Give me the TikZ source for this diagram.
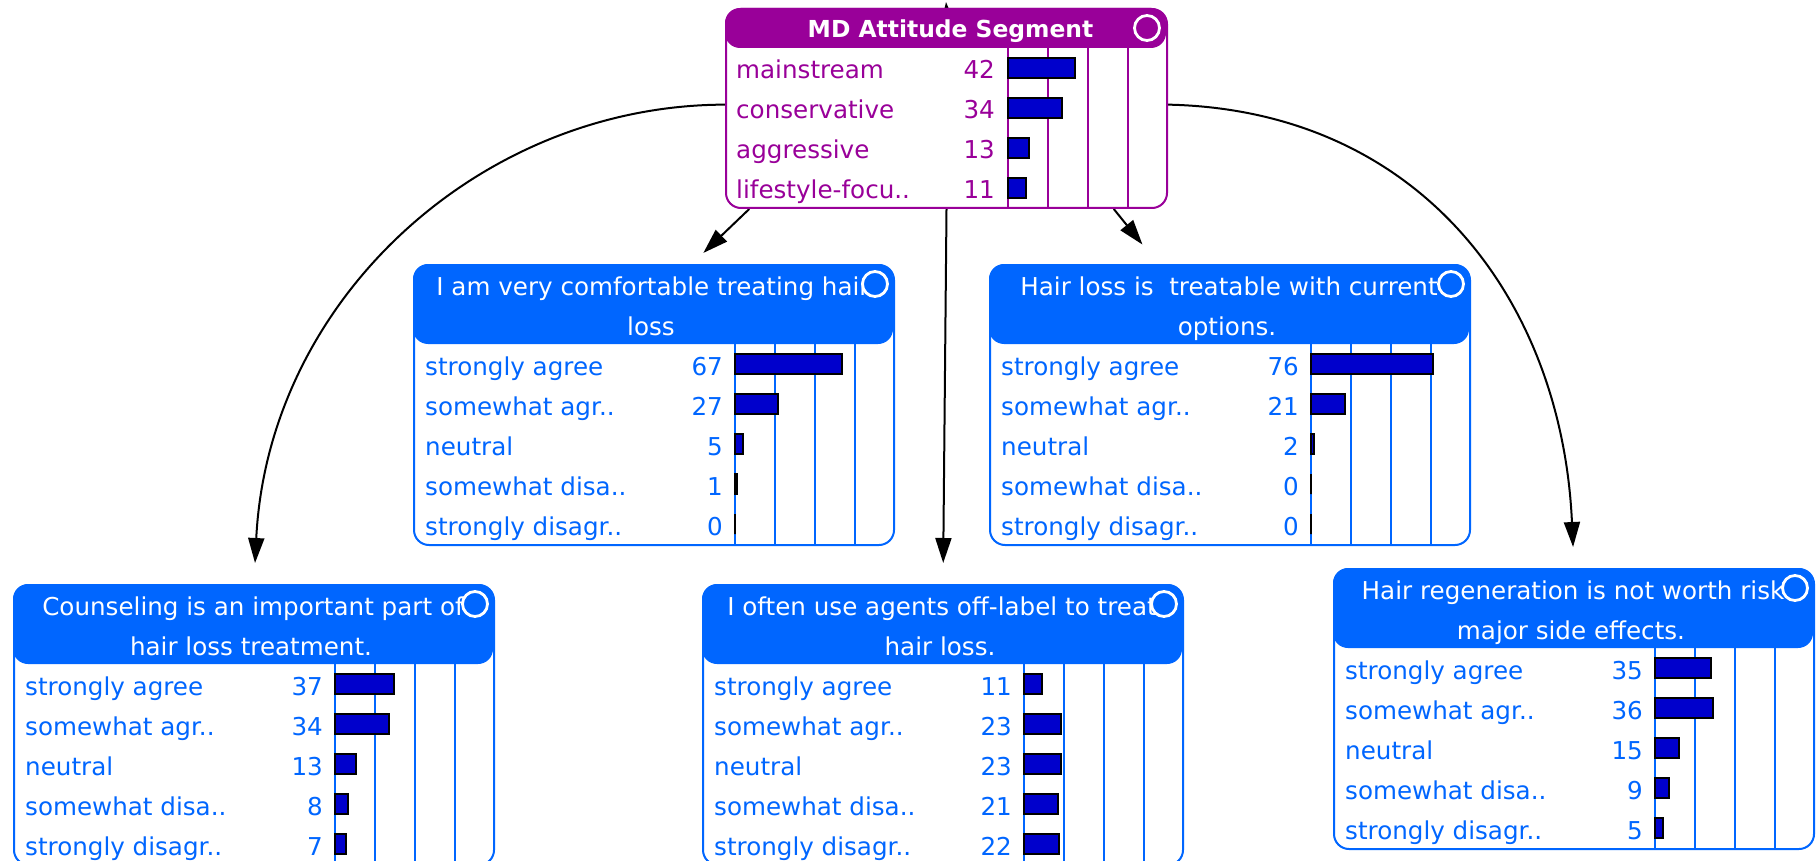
\documentclass[tikz,border=0pt]{standalone}
\usepackage{fontspec}
\setmainfont{DejaVu Sans}
\usetikzlibrary{positioning, arrows.meta, calc, backgrounds}

\definecolor{segpurple}{RGB}{153,0,153}
\definecolor{netblue}{RGB}{0,102,255}
\definecolor{barblue}{RGB}{0,0,204}

\tikzset{
	box/.style={draw=#1, fill=white, line width=2pt, rounded corners=15pt, inner sep=0pt, anchor=north west},
	head/.style={fill=#1, rounded corners=15pt},
	headtext/.style={text=white, anchor=base, inner sep=0pt},
	statetext/.style={text=#1, anchor=base west, inner sep=0pt},
	prob/.style={text=#1, anchor=base east, inner sep=0pt},
	gridline/.style={draw=#1, line width=2pt},
	probbar/.style={fill=barblue, draw=black, line width=2pt},
	knob/.style={draw=white, fill=#1, line width=2.8pt},
	link/.style={line width=2pt, -{Triangle[length=25pt, width=16pt]}},
}

% question node: name, left, top, title line 1, title line 2, states
\newcommand{\qnode}[6]{%
	\node[box=netblue, minimum width=480pt, minimum height=280pt] (#1) at (#2,#3) {};
	\fill[head=netblue] (#1.north west) rectangle ++(480,80);
	\node[headtext] at ($(#1.north)+(-1,31)$) {#4};
	\node[headtext] at ($(#1.north)+(-3,71)$) {#5};
	\foreach \k in {0,...,3}
		\draw[gridline=netblue] ($(#1.north east)+(-160+40*\k,80)$) -- ($(#1.south east)+(-160+40*\k,0)$);
	\foreach \lab/\val [count=\i] in {#6} {
		\node[statetext=netblue] at ($(#1.north west)+(12,40*\i+71)$) {\lab};
		\node[prob=netblue] at ($(#1.north east)+(-172,40*\i+71)$) {\val};
		\draw[probbar] ($(#1.north east)+(-160,40*\i+50)$) rectangle ++({1.6*\val},20);
	}
	\draw[knob=netblue] ($(#1.north east)+(-20,20)$) circle (12.5pt);
}

\begin{document}
\begin{tikzpicture}[x=1pt, y=-1pt, node font=\fontsize{24.6pt}{28pt}\selectfont]
	\useasboundingbox (0,0) rectangle (1820,861);
	\clip (0,0) rectangle (1820,861);
	
	% segment node
	\node[box=segpurple, minimum width=441pt, minimum height=199pt] (seg) at (725,8) {};
	\fill[head=segpurple] (seg.north west) rectangle ++(441,40);
	\node[headtext] at ($(seg.north)+(4,30)$) {\fontsize{23.4pt}{28pt}\selectfont\bfseries MD Attitude Segment};
	\foreach \k in {0,...,3}
		\draw[gridline=segpurple] ($(seg.north east)+(-160+40*\k,40)$) -- ($(seg.south east)+(-160+40*\k,0)$);
	\foreach \lab/\val [count=\i] in {mainstream/42, conservative/34, aggressive/13, lifestyle-focu../11} {
		\node[statetext=segpurple] at ($(seg.north west)+(11,40*\i+31)$) {\lab};
		\node[prob=segpurple] at ($(seg.north east)+(-173,40*\i+31)$) {\val};
		\draw[probbar] ($(seg.north east)+(-160,40*\i+10)$) rectangle ++({1.6*\val},20);
	}
	\draw[knob=segpurple] ($(seg.north east)+(-21,20)$) circle (12.5pt);
	
	\qnode{comf}{413}{264}{I am very comfortable treating hair}{loss}{strongly agree/67, somewhat agr../27, neutral/5, somewhat disa../1, strongly disagr../0}
	\qnode{treat}{989}{264}{Hair loss is\ \ treatable with current}{options.}{strongly agree/76, somewhat agr../21, neutral/2, somewhat disa../0, strongly disagr../0}
	\qnode{couns}{13}{584}{Counseling is an important part of}{hair loss treatment.}{strongly agree/37, somewhat agr../34, neutral/13, somewhat disa../8, strongly disagr../7}
	\qnode{offl}{702}{584}{I often use agents off-label to treat}{hair loss.}{strongly agree/11, somewhat agr../23, neutral/23, somewhat disa../21, strongly disagr../22}
	\qnode{regen}{1333}{568}{Hair regeneration is not worth risk}{major side effects.}{strongly agree/35, somewhat agr../36, neutral/15, somewhat disa../9, strongly disagr../5}
	
	% links
	\begin{scope}[on background layer]
		\coordinate (up) at (946,2);
		\draw[link] (seg.north) -- (up);
		\draw[link, shorten >=16pt] (seg.207) -- (comf.75);
		\draw[link, shorten >=25pt] (seg.329) -- (treat.117);
		\draw[link, shorten >=21pt] (seg.south) -- (offl.north);
		\draw[link, shorten >=21pt] (seg.179) .. controls (480,105) and (268,300) .. (couns.north);
		\draw[link, shorten >=21pt] (seg.1) .. controls (1420,110) and (1562,300) .. (regen.north);
	\end{scope}
\end{tikzpicture}
\end{document}
